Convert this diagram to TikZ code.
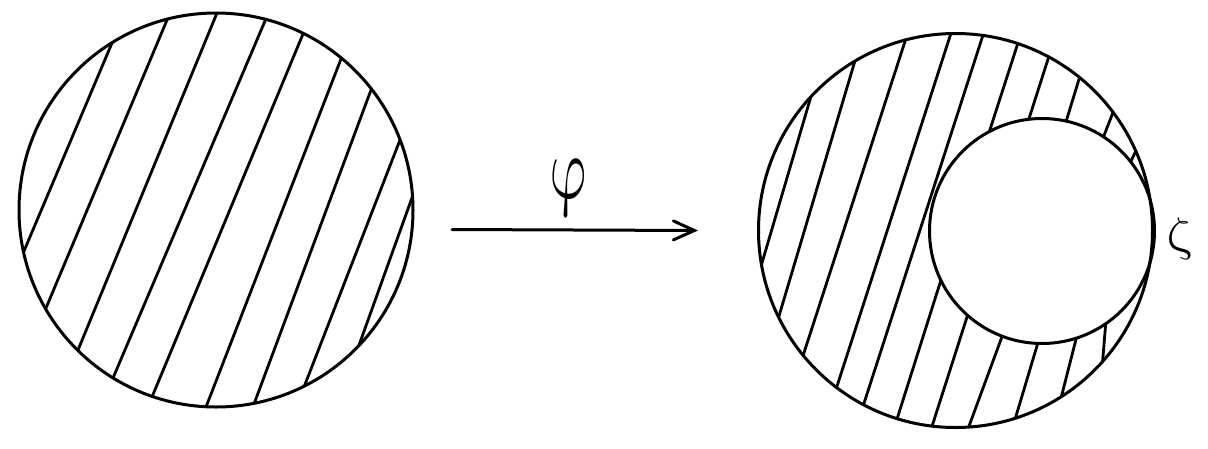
\documentclass[tikz,border=0pt]{standalone}
\usetikzlibrary{calc,arrows.meta}
\begin{document}
\begin{tikzpicture}[x=1pt,y=-1pt,
  outline/.style={line width=3pt},
  hatch/.style={line width=2.8pt},
  lab/.style={inner sep=0pt, outer sep=0pt}]
\useasboundingbox (0,0) rectangle (1208,448);
\coordinate (L) at (216,210);
\coordinate (R) at (955.5,230.5);
\coordinate (Z) at (1042,231);
\coordinate (a1) at (452,229.5);
\coordinate (a2) at (698,230.5);
% hatching of the left disc
\begin{scope}
  \clip (L) circle (197);
  \foreach \xa/\ya/\xb/\yb in {112/43/24/251, 167/20/46/308, 217/13/78/350,
      265/21/113/378, 303/34/152/397, 341/59/206/407, 371/90/254/404,
      400/140/304/387, 413/195/358/348}
    \draw[hatch] ($(\xa,\ya)!-10pt!(\xb,\yb)$) -- ($(\xb,\yb)!-10pt!(\xa,\ya)$);
\end{scope}
% hatching of the right disc, outside the hole
\begin{scope}[even odd rule]
  \clip (R) circle (197) (Z) circle (112.5);
  \foreach \xa/\ya/\xb/\yb in {810.7/97.3/760.7/267.3, 855/60.7/778.3/318.3,
      905.7/39.3/802.7/356.7, 950.7/34/836/389.3, 982.7/36/862.7/407.3,
      1017.3/45/989.3/131.7, 1048.3/58.3/1028.3/120.7, 1079.3/78.3/1066/121.7,
      1113.3/111.7/1103.3/137.3, 1136/150.7/1130.7/161.7,
      967/317/931.7/427.3, 1001.5/338/968.5/427.5, 1037.7/343.5/1015/419.5,
      1076/339.3/1060.7/399.3, 1105.7/324/1102.3/365, 940.5/281.5/896.7/420}
    \draw[hatch] ($(\xa,\ya)!-8pt!(\xb,\yb)$) -- ($(\xb,\yb)!-8pt!(\xa,\ya)$);
\end{scope}
% outlines
\draw[outline] (L) circle (197);
\draw[outline] (R) circle (197);
\draw[outline] (Z) circle (112.5);
% arrow and labels
\draw[outline, line cap=round, -{Straight Barb[length=21pt,width=19pt,line cap=round]}] (a1) -- (a2);
\node[lab, xscale=5.7, yscale=9, xslant=-0.2] (phi) at (570,188) {$\varphi$};
\node[lab, xscale=5.4, yscale=4.7, xslant=-0.2] (zeta) at (1180,239) {$\zeta$};
\end{tikzpicture}
\end{document}
